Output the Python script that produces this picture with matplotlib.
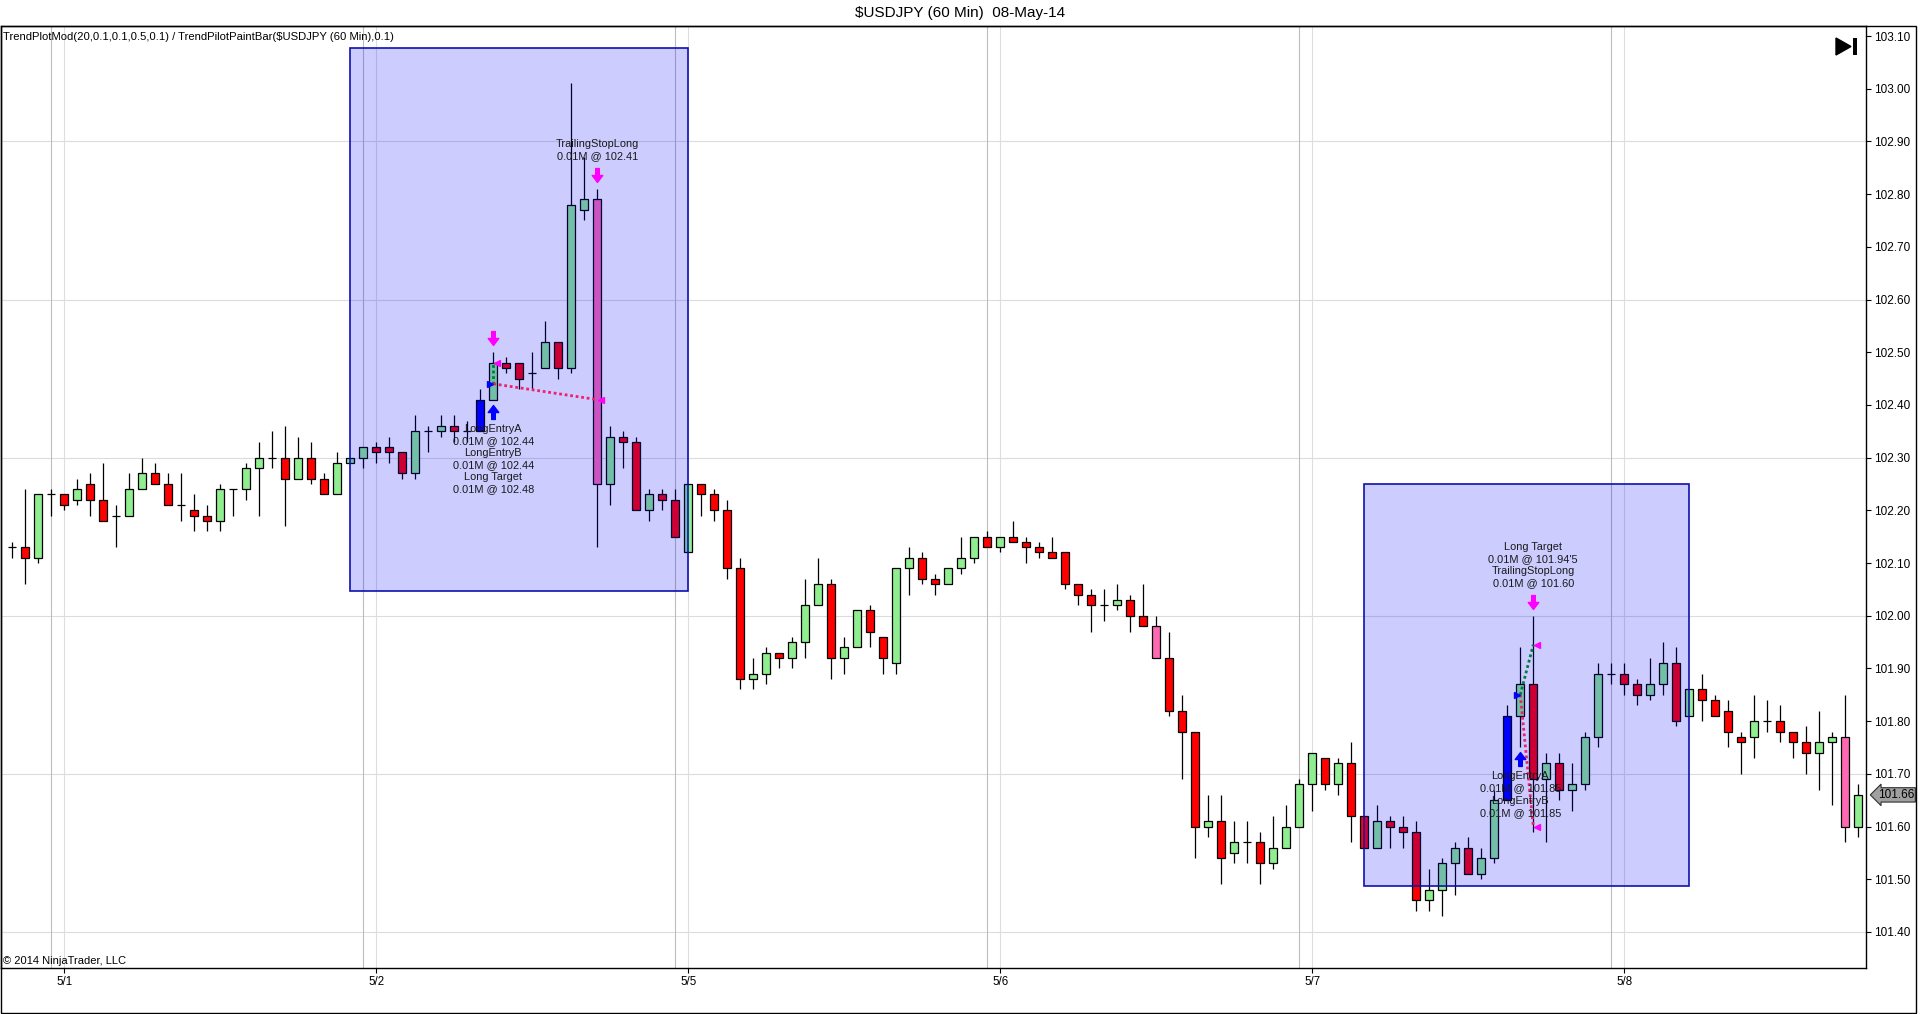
import numpy as np
import matplotlib
matplotlib.use("Agg")
import matplotlib.pyplot as plt
from matplotlib.patches import Rectangle, Polygon
from matplotlib.path import Path
from matplotlib.transforms import offset_copy

plt.rcParams['font.family'] = ['Liberation Sans', 'DejaVu Sans']

# ---------------- data ----------------
title = r"\$USDJPY (60 Min)  08-May-14"
indicator_label = r"TrendPlotMod(20,0.1,0.1,0.5,0.1) / TrendPilotPaintBar(\$USDJPY (60 Min),0.1)"
copyright_text = "© 2014 NinjaTrader, LLC"

bar_open = [102.13, 102.13, 102.11, 102.23, 102.23, 102.22, 102.25, 102.22, 102.19, 102.19,
            102.24, 102.27, 102.25, 102.21, 102.20, 102.19, 102.18, 102.24, 102.24, 102.28,
            102.30, 102.30, 102.26, 102.30, 102.26, 102.23, 102.29, 102.30, 102.32, 102.32,
            102.31, 102.27, 102.35, 102.35, 102.36, 102.35, 102.35, 102.41, 102.48, 102.48,
            102.46, 102.47, 102.52, 102.47, 102.77, 102.79, 102.25, 102.34, 102.33, 102.20,
            102.23, 102.22, 102.12, 102.25, 102.23, 102.20, 102.09, 101.88, 101.89, 101.93,
            101.92, 101.95, 102.02, 102.06, 101.92, 101.94, 102.01, 101.96, 101.91, 102.09,
            102.11, 102.07, 102.06, 102.09, 102.11, 102.15, 102.13, 102.15, 102.14, 102.13,
            102.12, 102.12, 102.06, 102.04, 102.02, 102.02, 102.03, 102.00, 101.98, 101.92,
            101.82, 101.78, 101.60, 101.61, 101.55, 101.57, 101.57, 101.53, 101.56, 101.60,
            101.68, 101.73, 101.68, 101.72, 101.62, 101.56, 101.61, 101.60, 101.59, 101.46,
            101.48, 101.53, 101.56, 101.51, 101.54, 101.65, 101.81, 101.87, 101.69, 101.72,
            101.67, 101.68, 101.77, 101.89, 101.89, 101.87, 101.85, 101.87, 101.91, 101.81,
            101.86, 101.84, 101.82, 101.77, 101.77, 101.80, 101.80, 101.78, 101.76, 101.74,
            101.76, 101.77, 101.60]
bar_high = [102.14, 102.24, 102.23, 102.24, 102.23, 102.26, 102.27, 102.29, 102.21, 102.27,
            102.30, 102.29, 102.27, 102.27, 102.23, 102.21, 102.25, 102.24, 102.29, 102.33,
            102.35, 102.36, 102.34, 102.33, 102.27, 102.31, 102.30, 102.32, 102.33, 102.34,
            102.31, 102.38, 102.36, 102.38, 102.38, 102.37, 102.43, 102.50, 102.49, 102.48,
            102.50, 102.56, 102.52, 103.01, 102.87, 102.81, 102.36, 102.35, 102.34, 102.24,
            102.24, 102.24, 102.25, 102.25, 102.24, 102.22, 102.11, 101.92, 101.94, 101.93,
            101.96, 102.07, 102.11, 102.07, 101.96, 102.01, 102.02, 101.96, 102.09, 102.13,
            102.12, 102.08, 102.09, 102.15, 102.15, 102.16, 102.15, 102.18, 102.15, 102.14,
            102.15, 102.12, 102.06, 102.05, 102.05, 102.06, 102.04, 102.06, 102.00, 101.97,
            101.85, 101.78, 101.66, 101.66, 101.61, 101.61, 101.59, 101.62, 101.64, 101.69,
            101.74, 101.73, 101.73, 101.76, 101.62, 101.64, 101.62, 101.62, 101.61, 101.52,
            101.54, 101.57, 101.58, 101.56, 101.67, 101.83, 101.94, 102.00, 101.74, 101.74,
            101.72, 101.78, 101.91, 101.91, 101.91, 101.88, 101.92, 101.95, 101.94, 101.86,
            101.89, 101.85, 101.84, 101.78, 101.85, 101.84, 101.83, 101.78, 101.79, 101.82,
            101.78, 101.85, 101.68]
bar_low = [102.11, 102.06, 102.10, 102.19, 102.20, 102.21, 102.19, 102.18, 102.13, 102.19,
           102.24, 102.25, 102.21, 102.18, 102.16, 102.16, 102.16, 102.19, 102.22, 102.19,
           102.28, 102.17, 102.26, 102.25, 102.23, 102.23, 102.29, 102.28, 102.29, 102.29,
           102.26, 102.26, 102.31, 102.34, 102.33, 102.33, 102.35, 102.41, 102.46, 102.43,
           102.43, 102.47, 102.45, 102.46, 102.75, 102.13, 102.21, 102.28, 102.20, 102.18,
           102.20, 102.15, 102.12, 102.19, 102.18, 102.07, 101.86, 101.86, 101.87, 101.90,
           101.90, 101.92, 102.02, 101.88, 101.89, 101.94, 101.94, 101.89, 101.89, 102.04,
           102.06, 102.04, 102.06, 102.08, 102.10, 102.13, 102.12, 102.14, 102.10, 102.11,
           102.11, 102.05, 102.02, 101.97, 101.99, 102.01, 101.97, 101.98, 101.92, 101.81,
           101.69, 101.54, 101.58, 101.49, 101.53, 101.53, 101.49, 101.52, 101.56, 101.60,
           101.63, 101.67, 101.66, 101.57, 101.56, 101.56, 101.56, 101.56, 101.44, 101.44,
           101.43, 101.47, 101.51, 101.50, 101.53, 101.65, 101.75, 101.59, 101.57, 101.65,
           101.63, 101.67, 101.75, 101.87, 101.85, 101.83, 101.84, 101.85, 101.79, 101.81,
           101.80, 101.81, 101.75, 101.70, 101.73, 101.78, 101.76, 101.73, 101.70, 101.67,
           101.64, 101.57, 101.58]
bar_close = [102.13, 102.11, 102.23, 102.23, 102.21, 102.24, 102.22, 102.18, 102.19, 102.24,
             102.27, 102.25, 102.21, 102.21, 102.19, 102.18, 102.24, 102.24, 102.28, 102.30,
             102.30, 102.26, 102.30, 102.26, 102.23, 102.29, 102.30, 102.32, 102.31, 102.31,
             102.27, 102.35, 102.35, 102.36, 102.35, 102.35, 102.41, 102.48, 102.47, 102.45,
             102.46, 102.52, 102.47, 102.78, 102.79, 102.25, 102.34, 102.33, 102.20, 102.23,
             102.22, 102.15, 102.25, 102.23, 102.20, 102.09, 101.88, 101.89, 101.93, 101.92,
             101.95, 102.02, 102.06, 101.92, 101.94, 102.01, 101.97, 101.92, 102.09, 102.11,
             102.07, 102.06, 102.09, 102.11, 102.15, 102.13, 102.15, 102.14, 102.13, 102.12,
             102.11, 102.06, 102.04, 102.02, 102.02, 102.03, 102.00, 101.98, 101.92, 101.82,
             101.78, 101.60, 101.61, 101.54, 101.57, 101.57, 101.53, 101.56, 101.60, 101.68,
             101.74, 101.68, 101.72, 101.62, 101.56, 101.61, 101.60, 101.59, 101.46, 101.48,
             101.53, 101.56, 101.51, 101.54, 101.65, 101.81, 101.87, 101.69, 101.72, 101.67,
             101.68, 101.77, 101.89, 101.89, 101.87, 101.85, 101.87, 101.91, 101.80, 101.86,
             101.84, 101.81, 101.78, 101.76, 101.80, 101.80, 101.78, 101.76, 101.74, 101.76,
             101.77, 101.60, 101.66]

blue_bars = [36, 115]          # TrendPilot paint: entry bars
pink_bars = [45, 88, 141]      # TrendPilot paint: reversal bars

day_labels = ["5/1", "5/2", "5/5", "5/6", "5/7", "5/8"]
day_start_bars = [4, 28, 52, 76, 100, 124]
session_break_bars = [3, 27, 51, 75, 99, 123]

price_ticks = [101.40, 101.50, 101.60, 101.70, 101.80, 101.90, 102.00, 102.10, 102.20,
               102.30, 102.40, 102.50, 102.60, 102.70, 102.80, 102.90, 103.00, 103.10]
grid_levels = [101.40, 101.70, 102.00, 102.30, 102.60, 102.90]

# trade regions (start bar, end bar, low price, high price)
region_start = [26, 104]
region_end = [52, 129]
region_low = [102.047, 101.488]
region_high = [103.078, 102.25]

# trade markers
entry_bars = [37, 116]
entry_prices = [102.44, 101.85]
target_bars = [37, 117]
target_prices = [102.48, 101.945]
stop_bars = [45, 117]
stop_prices = [102.41, 101.60]
exit_arrow_bars = [37, 45, 117]

entry_texts = [["LongEntryA", "0.01M @ 102.44", "LongEntryB", "0.01M @ 102.44",
                "Long Target", "0.01M @ 102.48"],
               ["LongEntryA", "0.01M @ 101.85", "LongEntryB", "0.01M @ 101.85"]]
exit_text_bars = [45, 117]
exit_texts = [["TrailingStopLong", "0.01M @ 102.41"],
              ["Long Target", "0.01M @ 101.94'5", "TrailingStopLong", "0.01M @ 101.60"]]

# ---------------- layout ----------------
W, H = 1920, 1014
DPI = 100
fig = plt.figure(figsize=(W / DPI, H / DPI), dpi=DPI)
fig.patch.set_facecolor("white")

PL, PR, PT, PB = 1, 1866, 26, 968   # plot area in pixels
ax = fig.add_axes([PL / W, (H - PB) / H, (PR - PL) / W, (PB - PT) / H])
X0, DX = 12.3, 13.0
ax.set_xlim((PL - X0) / DX, (PR - X0) / DX)
ax.set_ylim(101.3315, 103.119)
ax.set_facecolor("white")


def fpx(x, y):
    return (x / W, 1 - y / H)


# grid
for g in grid_levels:
    ax.axhline(g, color="#DCDCDC", lw=0.8, zorder=0)
for b in session_break_bars:
    ax.axvline(b, color="#BDBDBD", lw=0.8, zorder=0)
for b in day_start_bars:
    ax.axvline(b, color="#DEDEDE", lw=0.8, zorder=0)

# candles
UP, DOWN, BLUE, PINK = "#90EE90", "#FF0000", "#0000FF", "#FF69B4"
bw = 0.62
for i in range(len(bar_open)):
    o, h, l, c = bar_open[i], bar_high[i], bar_low[i], bar_close[i]
    if i in blue_bars:
        col = BLUE
    elif i in pink_bars:
        col = PINK
    elif c >= o:
        col = UP
    else:
        col = DOWN
    ax.plot([i, i], [l, h], color="black", lw=0.9, zorder=2, solid_capstyle="butt")
    lo, hi = min(o, c), max(o, c)
    ax.add_patch(Rectangle((i - bw / 2, lo), bw, hi - lo, facecolor=col,
                           edgecolor="black", lw=0.9, zorder=3))

# translucent trade regions
for s, e, lo, hi in zip(region_start, region_end, region_low, region_high):
    ax.add_patch(Rectangle((s, lo), e - s, hi - lo, facecolor=(0, 0, 1, 0.2),
                           edgecolor="#1010B0", lw=1.2, zorder=5))

# arrow markers
down_arrow = Path([(-0.13, 0.5), (0.13, 0.5), (0.13, 0.0), (0.38, 0.0), (0.0, -0.5),
                   (-0.38, 0.0), (-0.13, 0.0), (-0.13, 0.5)],
                  [Path.MOVETO] + [Path.LINETO] * 6 + [Path.CLOSEPOLY])
up_arrow = Path([(x, -y) for x, y in down_arrow.vertices], down_arrow.codes)

tr_up14 = offset_copy(ax.transData, fig=fig, x=0, y=14, units="dots")
tr_dn12 = offset_copy(ax.transData, fig=fig, x=0, y=-12, units="dots")
for b in exit_arrow_bars:
    ax.plot([b], [bar_high[b]], marker=down_arrow, markersize=10, color="#FF00FF",
            mec="#FF00FF", transform=tr_up14, zorder=7, ls="none")
for b in entry_bars:
    ax.plot([b], [bar_low[b]], marker=up_arrow, markersize=10, color="#0000FF",
            mec="#0000FF", transform=tr_dn12, zorder=7, ls="none")

# execution lines and triangles
for eb, ep, tb, tp, sb, sp in zip(entry_bars, entry_prices, target_bars, target_prices,
                                  stop_bars, stop_prices):
    ax.plot([eb, tb], [ep, tp], color="#007A3D", lw=2.0, ls=(0, (1, 1)), zorder=6)
    ax.plot([eb, sb], [ep, sp], color="#F0206A", lw=2.0, ls=(0, (1, 1)), zorder=6)
    ax.plot([eb - 0.25], [ep], marker=">", markersize=5, color="#0000FF", mec="#0000FF",
            zorder=7, ls="none")
    ax.plot([tb + 0.3], [tp], marker="<", markersize=5, color="#FF00FF", mec="#FF00FF",
            zorder=7, ls="none")
    ax.plot([sb + 0.3], [sp], marker="<", markersize=5, color="#FF00FF", mec="#FF00FF",
            zorder=7, ls="none")

# execution texts
LINE = 12.1 * 72 / DPI
FS = 7.9
for b, lines in zip(entry_bars, entry_texts):
    for k, t in enumerate(lines):
        ax.annotate(t, xy=(b, bar_low[b]), xytext=(0, -(29 * 72 / DPI) - k * LINE),
                    textcoords="offset points", ha="center", va="center",
                    fontsize=FS, color="#1A1A1A", zorder=8)
for b, lines in zip(exit_text_bars, exit_texts):
    n = len(lines)
    for k, t in enumerate(lines):
        ax.annotate(t, xy=(b, bar_high[b]),
                    xytext=(0, (32.8 * 72 / DPI) + (n - 1 - k) * LINE),
                    textcoords="offset points", ha="center", va="center",
                    fontsize=FS, color="#1A1A1A", zorder=8)

# axes styling
for sp in ax.spines.values():
    sp.set_color("black")
    sp.set_linewidth(1.0)
ax.yaxis.tick_right()
ax.set_yticks(price_ticks)
ax.set_yticklabels([f"{p:.2f}" for p in price_ticks])
ax.tick_params(axis="y", direction="out", length=3.8, width=0.8, pad=2,
               labelsize=8.5, colors="black")
ax.set_xticks(day_start_bars)
ax.set_xticklabels(day_labels)
ax.tick_params(axis="x", direction="out", length=3.8, width=0.8, pad=2,
               labelsize=8.3, colors="black")

# last price tag
ax.annotate(f"{bar_close[-1]:.2f}", xy=(1, bar_close[-1]),
            xycoords=("axes fraction", "data"), xytext=(8.5, 0),
            textcoords="offset points", ha="left", va="center", fontsize=8.5,
            bbox=dict(boxstyle="larrow,pad=0.1", fc="#A0A0A0", ec="#303030", lw=0.8),
            annotation_clip=False, zorder=9)

# texts
fig.text(*fpx(960, 13), title, ha="center", va="center", fontsize=11)
fig.text(*fpx(3, 37), indicator_label, ha="left", va="center", fontsize=8.1)
fig.text(*fpx(3, 961), copyright_text, ha="left", va="center", fontsize=8)

# outer frame
fig.add_artist(Rectangle(fpx(0.5, 1013), 1915.5 / W, (1013 - 26) / H,
                         transform=fig.transFigure, fill=False, ec="black", lw=1.0))

# play/end icon
fig.add_artist(Polygon([fpx(1836, 38), fpx(1836, 55), fpx(1851, 46.5)],
                       closed=True, transform=fig.transFigure, fc="black", ec="black"))
fig.add_artist(Rectangle(fpx(1853, 55), 3.5 / W, 17 / H, transform=fig.transFigure,
                         fc="black", ec="black", lw=0))

fig.savefig("out.png", dpi=DPI, facecolor="white")
